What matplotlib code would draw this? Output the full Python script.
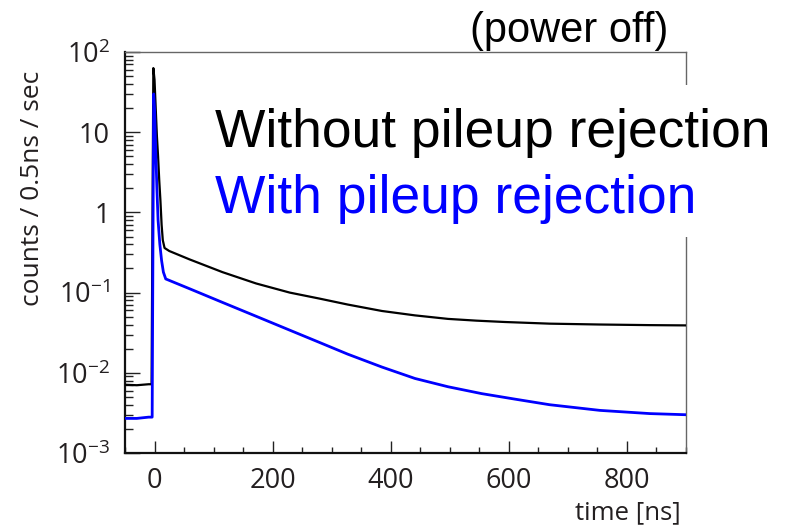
import matplotlib
matplotlib.use("Agg")
import matplotlib.pyplot as plt
from matplotlib.ticker import FixedLocator, FixedFormatter, MultipleLocator, LogLocator, NullFormatter
from matplotlib.patches import Rectangle

# ---- data ----
black_t = [-50, -30, -10, -5, -2, 0, 2, 4, 6, 8, 10, 12, 14, 17, 25, 59,
           115, 172, 229, 280, 327, 385, 441, 497, 545, 593, 669, 754, 839, 900]
black_y = [0.0071, 0.0070, 0.0072, 0.0072, 63, 45, 20, 9, 5, 2.5, 1.4, 0.7, 0.45, 0.36,
           0.33, 0.26, 0.18, 0.13, 0.10, 0.084, 0.071, 0.059, 0.052, 0.047, 0.0447,
           0.043, 0.041, 0.040, 0.0393, 0.039]

blue_t = [-50, -30, -10, -4, -1.5, 0, 2, 4, 6, 9, 12, 15, 19, 59, 115,
          172, 229, 280, 327, 385, 441, 497, 554, 610, 669, 754, 839, 900]
blue_y = [0.0027, 0.0027, 0.0028, 0.0028, 30, 20, 6, 2, 0.8, 0.4, 0.25, 0.18, 0.148,
          0.112, 0.0755, 0.0507, 0.034, 0.0238, 0.0171, 0.0118, 0.0085, 0.0067,
          0.0055, 0.0047, 0.0040, 0.0034, 0.0031, 0.0030]

y_tick_vals = [1e-3, 1e-2, 1e-1, 1, 10, 100]
y_tick_labels = [r"$10^{-3}$", r"$10^{-2}$", r"$10^{-1}$", "1", "10", r"$10^{2}$"]
x_tick_vals = [0, 200, 400, 600, 800]
x_tick_labels = ["0", "200", "400", "600", "800"]

W, H = 787, 525
plt.rcParams["mathtext.fontset"] = "custom"
plt.rcParams["mathtext.rm"] = "Open Sans"
plt.rcParams["mathtext.it"] = "Open Sans"
plt.rcParams["font.family"] = ["Open Sans", "DejaVu Sans"]

fig = plt.figure(figsize=(W / 100, H / 100), dpi=100)
L, R, T, B = 125, 686, 52, 453
ax = fig.add_axes([L / W, 1 - B / H, (R - L) / W, (B - T) / H])

ax.plot(black_t, black_y, color="black", lw=1.6, zorder=3)
ax.plot(blue_t, blue_y, color="#0000ff", lw=2.0, zorder=4)

ax.set_yscale("log")
ax.set_ylim(1e-3, 1e2)
ax.set_xlim(-50, 900)

ax.yaxis.set_major_locator(FixedLocator(y_tick_vals))
ax.yaxis.set_major_formatter(FixedFormatter(y_tick_labels))
ax.yaxis.set_minor_locator(LogLocator(base=10, subs=range(2, 10)))
ax.yaxis.set_minor_formatter(NullFormatter())
ax.xaxis.set_major_locator(FixedLocator(x_tick_vals))
ax.xaxis.set_major_formatter(FixedFormatter(x_tick_labels))
ax.xaxis.set_minor_locator(MultipleLocator(50))

ax.tick_params(axis="y", which="major", direction="in", length=11, width=1.0,
               labelsize=19.5, pad=11, colors="#222222", labelcolor="#231f20")
ax.tick_params(axis="y", which="minor", direction="in", length=6, width=1.0, colors="#222222")
ax.tick_params(axis="x", which="major", direction="in", length=8.5, width=1.0,
               labelsize=19.5, pad=10, colors="#222222", labelcolor="#231f20")
ax.tick_params(axis="x", which="minor", direction="in", length=4.5, width=1.0, colors="#222222")

for s in ["left", "bottom"]:
    ax.spines[s].set_linewidth(1.6)
    ax.spines[s].set_color("#111111")
for s in ["top", "right"]:
    ax.spines[s].set_linewidth(1.0)
    ax.spines[s].set_color("#666666")

fig.text(33 / W, 1 - 188 / H, "counts / 0.5ns / sec", rotation=90, ha="center",
         va="center", fontsize=19, color="#231f20")
fig.text(681 / W, 1 - 513 / H, "time [ns]", ha="right", va="center", fontsize=18.5,
         color="#231f20")

# white box behind the legend text
fig.add_artist(Rectangle((210 / W, 1 - 237 / H), (775 - 210) / W, (237 - 85) / H,
                         transform=fig.transFigure, facecolor="white",
                         edgecolor="none", zorder=5))

fig.text(215 / W, 1 - 147 / H, "Without pileup rejection", ha="left", va="baseline",
         fontsize=38.4, family="Liberation Sans", color="black", zorder=6)
fig.text(215 / W, 1 - 213 / H, "With pileup rejection", ha="left", va="baseline",
         fontsize=38.4, family="Liberation Sans", color="#0000ff", zorder=6)
fig.text(470 / W, 1 - 42 / H, "(power off)", ha="left", va="baseline",
         fontsize=30, family="Liberation Sans", color="black", zorder=6)

fig.savefig("out.png", dpi=100)
